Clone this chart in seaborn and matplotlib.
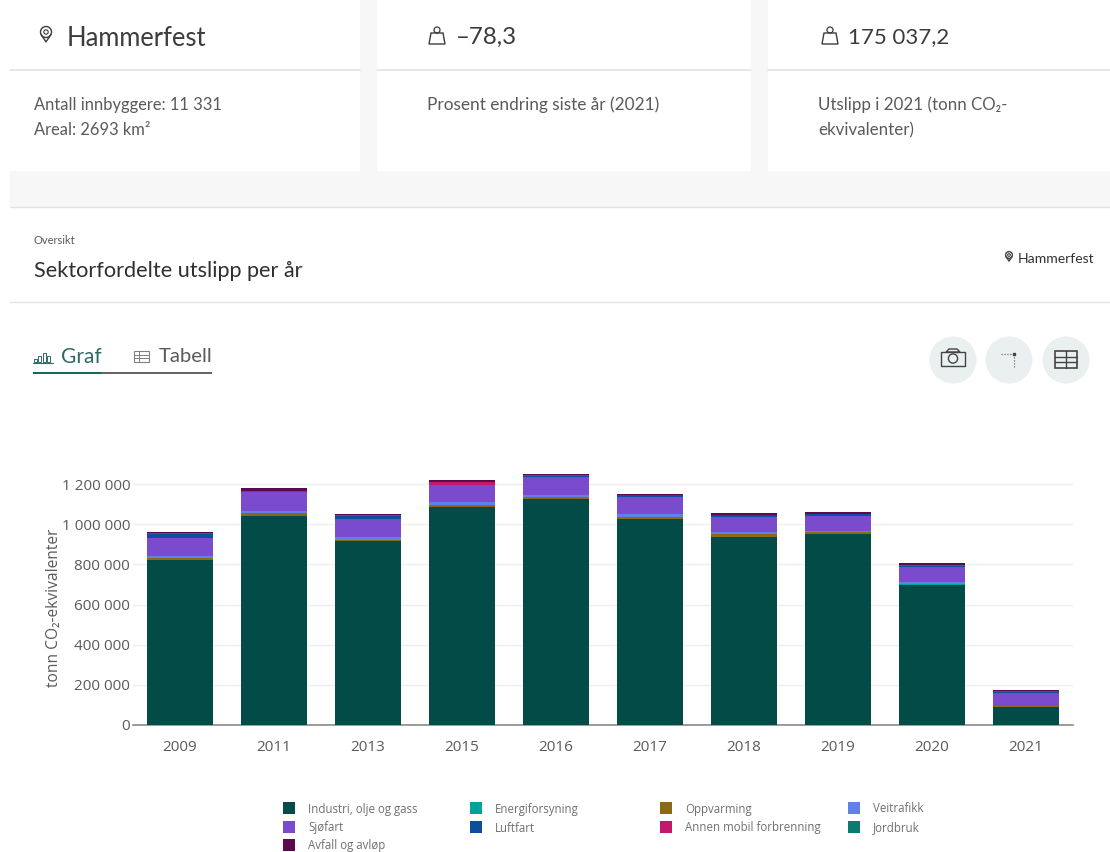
import matplotlib
matplotlib.use("Agg")
import matplotlib.pyplot as plt
from matplotlib.patches import Circle, Rectangle, Polygon
import numpy as np
import pandas as pd
import seaborn as sns

years = ["2009", "2011", "2013", "2015", "2016", "2017", "2018", "2019", "2020", "2021"]

# verdier lest av bildet, i tusen tonn
industri = [820, 1040, 915, 1085, 1124, 1025, 935, 950, 697, 91]
energi = [3, 3, 3, 3, 3, 3, 3, 3, 3, 1]
oppvarming = [10, 13, 5, 8, 9, 10, 11, 7, 4, 1]
veitrafikk = [8, 9, 12, 13, 12, 12, 11, 6, 7, 2]
sjofart = [92, 97, 92, 85, 86, 88, 77, 76, 74, 65]
luftfart = [19, 1, 15, 2, 7, 6, 8, 8, 8, 6]
annen = [3, 2, 1, 12, 1, 1, 1, 1, 1, 1]
jordbruk = [1, 1, 1, 1, 1, 1, 1, 1, 1, 1]
avfall = [3, 12, 6, 13, 8, 5, 8, 8, 14, 7]

names = ["Industri, olje og gass", "Energiforsyning", "Oppvarming", "Veitrafikk", "Sjøfart",
         "Luftfart", "Annen mobil forbrenning", "Jordbruk", "Avfall og avløp"]
colors = ["#024b46", "#00a39a", "#8a6a17", "#6080ea", "#7a4bcc",
          "#0d4f9e", "#c4186c", "#0b7a6f", "#5b0a4e"]
series = [industri, energi, oppvarming, veitrafikk, sjofart, luftfart, annen, jordbruk, avfall]
yticks = [0, 200000, 400000, 600000, 800000, 1000000, 1200000]
ytick_labels = ["0", "200 000", "400 000", "600 000", "800 000", "1 000 000", "1 200 000"]

sns.set_theme(style="white")
plt.rcParams["font.family"] = ["Lato", "DejaVu Sans"]
chart_font = ["Open Sans", "DejaVu Sans"]

W, H = 1110, 852
fig = plt.figure(figsize=(W / 100, H / 100), dpi=100)

# bakgrunn og kort i pikselkoordinater
bg = fig.add_axes([0, 0, 1, 1], zorder=0)
bg.set_xlim(0, W)
bg.set_ylim(H, 0)
bg.axis("off")
bg.add_patch(Rectangle((10, 0), W - 10, 207, color="#f7f7f7", lw=0))
for x0, x1 in [(10, 360), (377, 751), (768, 1110)]:
    bg.add_patch(Rectangle((x0, 0), x1 - x0, 171, color="white", lw=0))
    bg.plot([x0, x1], [70, 70], color="#e3e3e3", lw=1.2)
bg.plot([10, W], [207, 207], color="#e3e3e3", lw=1)
bg.plot([10, W], [302, 302], color="#e3e3e3", lw=1)

dark = "#3c3c3c"
grey = "#5a5a5a"


def pin(x, y, s, col=dark):
    bg.add_patch(Circle((x, y), s, fill=False, ec=col, lw=1))
    bg.add_patch(Circle((x, y), s * 0.4, fill=False, ec=col, lw=0.8))
    bg.plot([x - s * 0.9, x, x + s * 0.9], [y + s * 0.45, y + s * 1.8, y + s * 0.45], color=col, lw=1)


def bag(x, y):
    # y er midt i ikonet
    bg.add_patch(Polygon([(x - 6, y - 3), (x + 6, y - 3), (x + 8, y + 8), (x - 8, y + 8)], fill=False, ec=dark, lw=1))
    bg.add_patch(Circle((x, y - 6), 3, fill=False, ec=dark, lw=0.9))


pin(46, 32, 5.5)
bg.text(67, 38, "Hammerfest", fontsize=18.4, color=dark, va="center")
bag(437, 36)
bg.text(456, 37, "–78,3", fontsize=17.4, color=dark, va="center")
bag(830, 36)
bg.text(848, 37, "175 037,2", fontsize=16, color=dark, va="center")

bg.text(34, 105, "Antall innbyggere: 11 331", fontsize=11.9, color=grey, va="center")
bg.text(34, 130, "Areal: 2693 km²", fontsize=11.9, color=grey, va="center")
bg.text(427, 105, "Prosent endring siste år (2021)", fontsize=12.4, color=grey, va="center")
bg.text(818, 105, "Utslipp i 2021 (tonn CO₂-", fontsize=12.2, color=grey, va="center")
bg.text(818, 130, "ekvivalenter)", fontsize=12.2, color=grey, va="center")

bg.text(34, 240, "Oversikt", fontsize=8, color=grey, va="center")
bg.text(34, 271, "Sektorfordelte utslipp per år", fontsize=15.6, color="#2f2f2f", va="center")
pin(1009, 255, 3.4, "#444444")
bg.text(1094, 259, "Hammerfest", fontsize=10.1, color="#333333", va="center", ha="right")

# faner
teal = "#2f6b66"
for bx, bh in [(35, 3), (39, 6), (44, 9), (48, 6)]:
    bg.add_patch(Rectangle((bx - 1, 362 - bh), 3, bh, fill=False, ec=teal, lw=0.7))
bg.plot([33, 53], [362.5, 362.5], color=teal, lw=0.8)
bg.text(61, 357, "Graf", fontsize=15, color=teal, va="center")
bg.add_patch(Rectangle((134, 351), 15, 11, fill=False, ec="#808080", lw=0.8))
bg.plot([134, 149], [354.5, 354.5], color="#808080", lw=0.7)
bg.plot([134, 149], [358, 358], color="#808080", lw=0.7)
bg.plot([138.5, 138.5], [351, 362], color="#808080", lw=0.7)
bg.text(159, 357, "Tabell", fontsize=14.6, color=grey, va="center")
bg.plot([33, 212], [373, 373], color="#555555", lw=1.3, solid_capstyle="butt")
bg.plot([33, 101], [373, 373], color="#0b6b5f", lw=1.3, solid_capstyle="butt", zorder=3)

# knapper
for cx in [953, 1009, 1066]:
    bg.add_patch(Circle((cx, 360), 23.5, color="#e9f0ef", lw=0))
bg.add_patch(Rectangle((941, 352), 24, 14, fill=False, ec="#444444", lw=1))
bg.add_patch(Polygon([(946, 352), (949, 349), (957, 349), (960, 352)], fill=False, ec="#444444", lw=1))
bg.add_patch(Circle((953, 358.5), 4.6, fill=False, ec="#444444", lw=1))
bg.plot([1001, 1014], [354, 354], color="#555555", lw=0.8, ls=":")
bg.plot([1014, 1014], [354, 368], color="#555555", lw=0.8, ls=":")
bg.plot([1014], [354], "s", color="#444444", ms=2)
bg.add_patch(Rectangle((1055, 351), 22, 17, fill=False, ec="#444444", lw=1.2))
bg.plot([1055, 1077], [356.5, 356.5], color="#444444", lw=1)
bg.plot([1055, 1077], [362, 362], color="#444444", lw=1)
bg.plot([1066, 1066], [351, 368], color="#444444", lw=1)

# selve diagrammet
ax = fig.add_axes([133 / W, 1 - 725 / H, 940 / W, 261 / H], zorder=2)
ax.patch.set_alpha(0)
bottom = np.zeros(len(years))
for name, vals, col in zip(names, series, colors):
    df = pd.DataFrame({"year": years, "value": np.array(vals) * 1000.0})
    sns.barplot(data=df, x="year", y="value", order=years, color=col, saturation=1,
                width=0.7, bottom=bottom, linewidth=0, ax=ax, zorder=3, errorbar=None)
    bottom += df["value"].values

ax.set_xlim(-0.5, 9.5)
ax.set_ylim(0, 1300000)
ax.set_yticks(yticks)
ax.set_yticklabels(ytick_labels)
ax.grid(axis="y", color="#efefef", lw=1)
ax.set_axisbelow(True)
ax.set_xlabel("")
ax.set_ylabel("tonn CO₂-ekvivalenter", fontsize=11.2, color=grey, family=chart_font)
ax.yaxis.set_label_coords((62 - 133) / 940, (725 - 608) / 261)
for side in ["top", "right", "left"]:
    ax.spines[side].set_visible(False)
ax.spines["bottom"].set_color("#8a8a8a")
ax.spines["bottom"].set_linewidth(1.2)
ax.tick_params(axis="x", length=0, labelsize=11, labelcolor=grey, pad=11)
ax.tick_params(axis="y", length=0, labelsize=11, labelcolor=grey, pad=2)
for lab in ax.get_xticklabels() + ax.get_yticklabels():
    lab.set_family(chart_font)

# tegnforklaring
leg_x = [283, 470, 660, 848]
leg_y = [808, 827, 845]
for i, (name, col) in enumerate(zip(names, colors)):
    lx = leg_x[i % 4]
    ly = leg_y[i // 4]
    bg.add_patch(Rectangle((lx, ly - 6), 12, 12, color=col, lw=0))
    bg.text(lx + 25, ly + 1, name, fontsize=8.3, color="#707070", va="center",
            family=chart_font)

fig.savefig("out.png", dpi=100)
